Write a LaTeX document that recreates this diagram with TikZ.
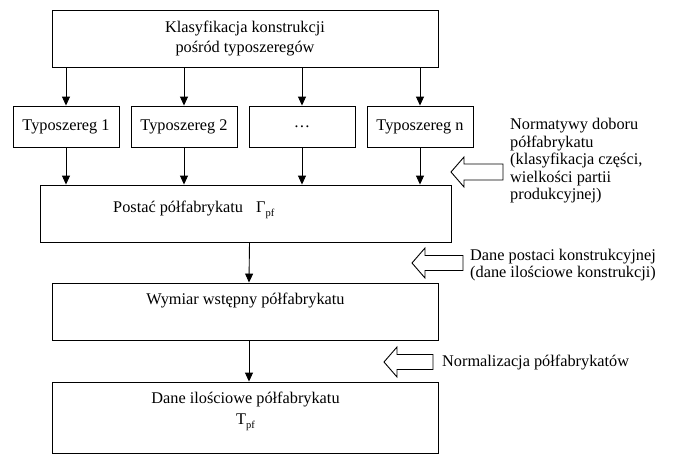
\documentclass[tikz,border=0pt]{standalone}
\usepackage{fontspec}
\setmainfont{Liberation Serif}
\usetikzlibrary{arrows.meta}

% subscript "pf" used in the symbols of the flow chart
\newcommand{\pfsub}{\raisebox{-0.45ex}{\fontsize{10.5}{10.5}\selectfont pf}}

\tikzset{
  every node/.style={font=\fontsize{16.3}{19.6}\selectfont, inner sep=0pt},
  blk/.style={draw, line width=0.9pt, fill=white},
  typbox/.style={blk, minimum width=106pt, minimum height=41pt},
  widebox/.style={blk, minimum width=386pt, minimum height=57pt},
  flow/.style={line width=0.9pt, -{Triangle[length=9pt,width=8pt]}},
  inarrow/.style={draw, line width=0.9pt, fill=white, line join=miter},
  note/.style={align=left, anchor=west},
}

\begin{document}
\begin{tikzpicture}[x=1pt, y=-1pt]
  \useasboundingbox (0,0) rectangle (673,455);

  % classification of designs
  \node[widebox, align=center] (top) at (245,38.5)
    {Klasyfikacja konstrukcji\\pośród typoszeregów};

  % type series
  \node[typbox] (t1) at (66,126.5)  {Typoszereg 1};
  \node[typbox] (t2) at (184,126.5) {Typoszereg 2};
  \node[typbox] (t3) at (302,126.5) {…};
  \node[typbox] (t4) at (420,126.5) {Typoszereg n};

  % semi-finished product form
  \node[blk, minimum width=411pt, minimum height=57pt] (post) at (245.5,213.5) {};
  \node[anchor=west] (posttxt) at (113,210)
    {Postać półfabrykatu\hspace{13pt}Γ\pfsub};

  % preliminary dimension
  \node[widebox] (wym) at (245,311.5) {};
  \node (wymtxt) at (245.5,300.5) {Wymiar wstępny półfabrykatu};

  % quantitative data
  \node[blk, minimum width=386pt, minimum height=71pt] (dane) at (245,417.5) {};
  \node[align=center, font=\fontsize{16.3}{21.5}\selectfont] (danetxt) at (245.5,411)
    {Dane ilościowe półfabrykatu\\T\pfsub};

  % flow arrows
  \foreach \t in {t1,t2,t3,t4}{
    \draw[flow] (top.south -| \t.north) -- (\t.north);
    \draw[flow] (\t.south) -- (\t.south |- post.north);
  }
  \draw[flow] ([xshift=4pt]post.south) -- ([xshift=4pt]wym.north);
  \draw[flow] ([xshift=4pt]wym.south) -- ([xshift=4pt]dane.north);

  % external inputs (hollow block arrows)
  \draw[inarrow] (451,172) -- (464,157) -- (464,164) -- (503,164) -- (503,180)
    -- (464,180) -- (464,187) -- cycle;
  \draw[inarrow] (412,263) -- (425,248) -- (425,255.5) -- (463,255.5) -- (463,270.5)
    -- (425,270.5) -- (425,278) -- cycle;
  \draw[inarrow] (384,362) -- (397,347) -- (397,354.5) -- (433,354.5) -- (433,369.5)
    -- (397,369.5) -- (397,377) -- cycle;

  % input descriptions
  \node[note, font=\fontsize{16.3}{17.5}\selectfont] (n1) at (510,161)
    {Normatywy doboru\\półfabrykatu\\(klasyfikacja części,\\wielkości partii\\produkcyjnej)};
  \node[note, font=\fontsize{16.3}{16.5}\selectfont] (n2) at (470,265)
    {Dane postaci konstrukcyjnej\\(dane ilościowe konstrukcji)};
  \node[note] (n3) at (442,363) {Normalizacja półfabrykatów};
\end{tikzpicture}
\end{document}
